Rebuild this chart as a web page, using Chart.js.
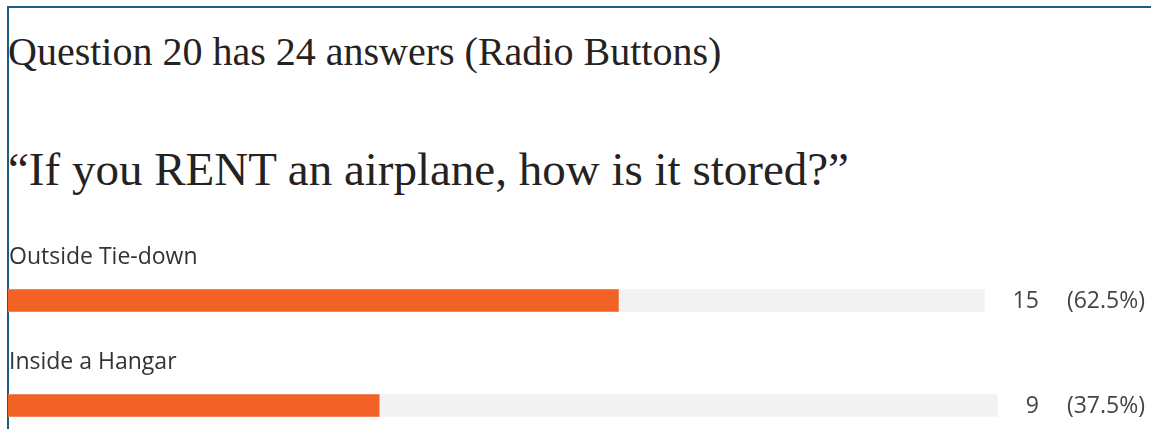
<!DOCTYPE html>
<html>
<head>
<meta charset="utf-8">
<script src="https://cdn.jsdelivr.net/npm/chart.js@4.4.1/dist/chart.umd.min.js"></script>
<style>
  html, body { margin: 0; padding: 0; background: #fff; }
  body { width: 1151px; height: 429px; overflow: hidden; position: relative; }
  .frame {
    position: absolute; left: 7px; top: 6px; right: -4px; bottom: -4px;
    border-top: 2px solid #1f5c86; border-left: 2px solid #1f5c86;
  }
  .heading, .question {
    position: absolute; left: 8px; margin: 0; white-space: nowrap;
    font-family: "Liberation Serif", "DejaVu Serif", serif; font-weight: normal;
    color: #26221f;
  }
  .heading { top: 29px; font-size: 40px; line-height: 46px; }
  .question { top: 142px; font-size: 47px; line-height: 54px; }
  canvas.row { position: absolute; left: 0; }
</style>
</head>
<body>
<div class="frame"></div>
<h1 class="heading">Question 20 has 24 answers (Radio Buttons)</h1>
<h2 class="question">“If you RENT an airplane, how is it stored?”</h2>
<canvas class="row" id="row0" width="1151" height="82" style="top:230px"></canvas>
<canvas class="row" id="row1" width="1151" height="82" style="top:335px"></canvas>

<script>
// Survey answers
const categories = ["Outside Tie-down", "Inside a Hangar"]
const counts = [15, 9]
const percents = ["(62.5%)", "(37.5%)"]
const totalAnswers = 24

const labelFont = '23px "Open Sans", Inter, sans-serif'
const rightEdge = 1145
const textGap = 28

function textWidth(str) {
  const c = document.createElement("canvas").getContext("2d")
  c.font = labelFont
  return c.measureText(str).width
}

// draws the answer name above the bar and count / percent to the right
const rowText = {
  id: "rowText",
  afterDraw(chart) {
    const { ctx, chartArea } = chart
    const i = chart.options.plugins.rowText.index
    const yMid = (chartArea.top + chartArea.bottom) / 2
    ctx.save()
    ctx.font = labelFont
    ctx.fillStyle = "#333"
    ctx.textAlign = "left"
    ctx.textBaseline = "alphabetic"
    ctx.fillText(categories[i], chartArea.left + 1, chartArea.top - 25)
    ctx.fillStyle = "#444"
    ctx.textBaseline = "middle"
    ctx.textAlign = "right"
    ctx.fillText(percents[i], rightEdge, yMid + 1)
    const pctLeft = rightEdge - textWidth(percents[i])
    ctx.fillText(String(counts[i]), pctLeft - textGap, yMid + 1)
    ctx.restore()
  },
}

categories.forEach(function (name, i) {
  const rightText =
    1151 - rightEdge + textWidth(percents[i]) + textGap + textWidth(String(counts[i])) + textGap
  new Chart(document.getElementById("row" + i), {
    type: "bar",
    data: {
      labels: [name],
      datasets: [
        {
          label: "Answers",
          data: [counts[i]],
          backgroundColor: "#f26227",
          barThickness: 22,
          grouped: false,
          order: 0,
        },
        {
          label: "Total",
          data: [totalAnswers],
          backgroundColor: "#f2f2f2",
          barThickness: 22,
          grouped: false,
          order: 1,
        },
      ],
    },
    options: {
      indexAxis: "y",
      responsive: false,
      animation: false,
      layout: { padding: { top: 59, bottom: 0, left: 8, right: rightText } },
      scales: {
        x: { min: 0, max: totalAnswers, display: false },
        y: { display: false },
      },
      plugins: {
        legend: { display: false },
        tooltip: { enabled: false },
        rowText: { index: i },
      },
    },
    plugins: [rowText],
  })
})
</script>
</body>
</html>
